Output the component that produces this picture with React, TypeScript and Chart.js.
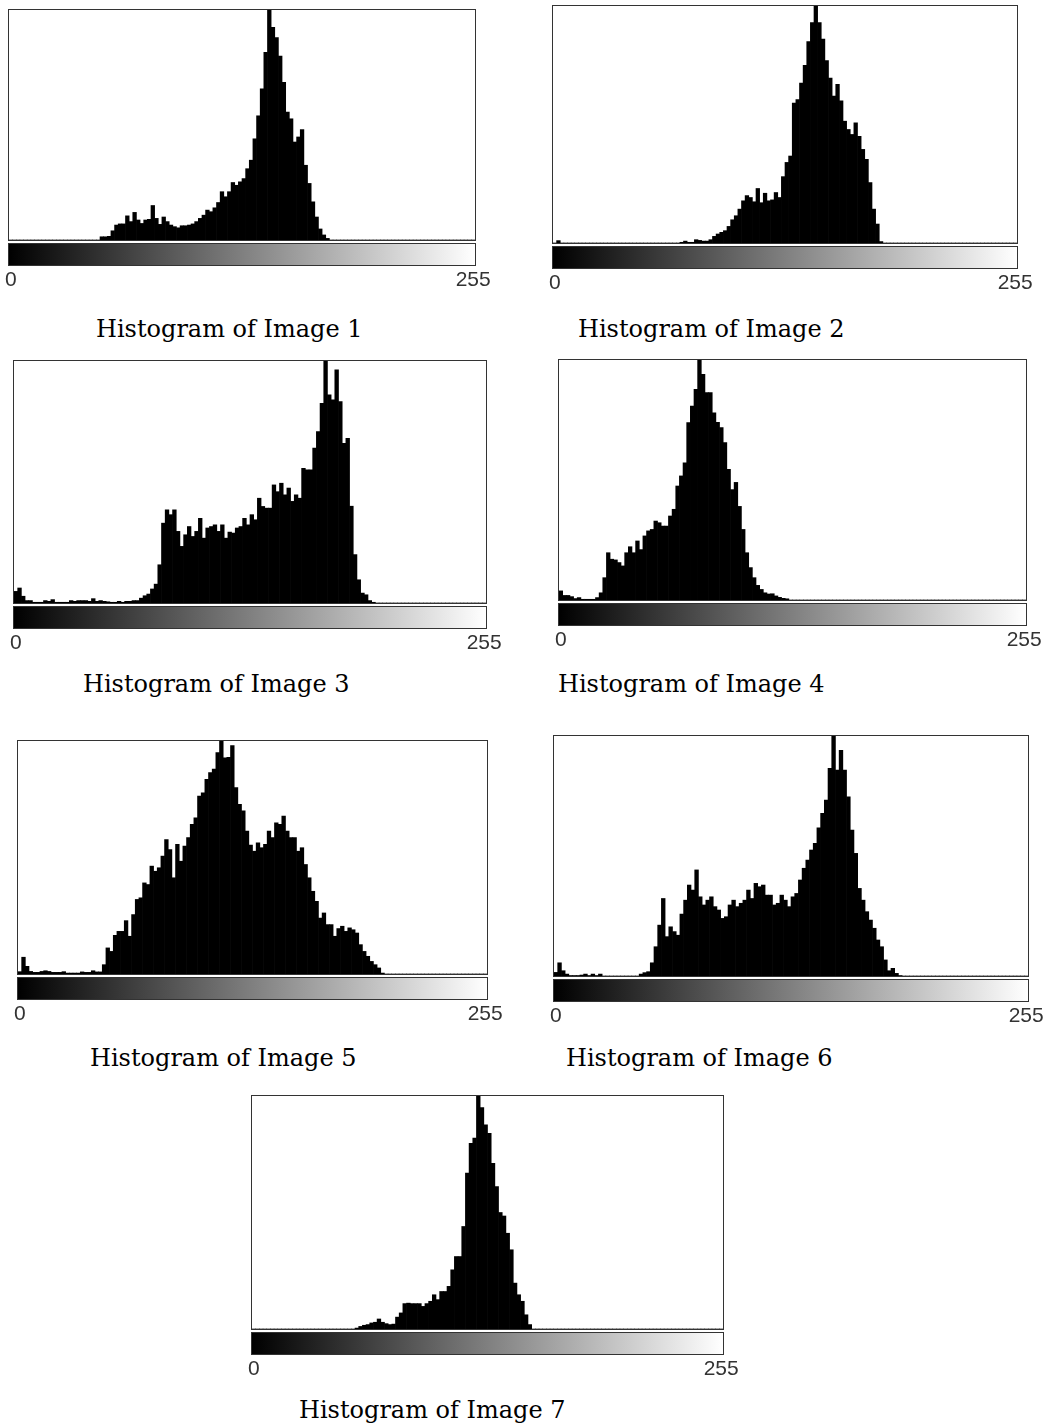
import React, { useEffect, useRef } from "react";
import { Chart, registerables } from "chart.js";

Chart.register(...registerables);

// 128 bins, each covering two grey levels (0-1, 2-3, ... 254-255)
const grayBins: string[] = Array.from({ length: 128 }, (_, i) => `${i * 2}-${i * 2 + 1}`);
const tickLabels = ["0", "255"];
const captions = [
  "Histogram of Image 1",
  "Histogram of Image 2",
  "Histogram of Image 3",
  "Histogram of Image 4",
  "Histogram of Image 5",
  "Histogram of Image 6",
  "Histogram of Image 7",
];

// relative pixel counts (% of the peak bin)
const hist1 = [
  0, 0, 0, 0, 0, 0, 0, 0, 0, 0, 0, 0, 0, 0, 0, 0, 0, 0, 0, 0, 0, 0, 0, 0, 0,
  1.4, 1.4, 1.6, 4, 6.5, 7, 7, 10.5, 8, 12, 8.7, 7.2, 8.7, 9, 15, 9.4, 6.8, 10, 8, 6.5,
  5.8, 5.3, 6.2, 6.2, 6.5, 7, 8, 9.4, 10.8, 13, 12.3, 14, 16.3, 21, 18.8, 21, 25, 23.8,
  25.3, 26.7, 31, 34.7, 44, 54, 65.7, 81.6, 100, 92.5, 88, 80, 68.6, 55.6, 52.7, 42.6,
  44.8, 48, 32.5, 24.6, 16.6, 10, 4.8, 2.2, 0.7,
  0, 0, 0, 0, 0, 0, 0, 0, 0, 0, 0, 0, 0, 0, 0, 0, 0, 0, 0, 0,
  0, 0, 0, 0, 0, 0, 0, 0, 0, 0, 0, 0, 0, 0, 0, 0, 0, 0, 0, 0,
];

const hist2 = [
  0, 1, 0, 0, 0, 0, 0, 0, 0, 0, 0, 0, 0, 0, 0, 0, 0, 0, 0, 0, 0, 0, 0, 0, 0, 0, 0, 0, 0,
  0, 0, 0, 0, 0, 0,
  0.3, 0.8, 0.3, 0.3, 1.4, 1.1, 0.8, 0.8, 1.4, 2.8, 3.8, 4.5, 5.2, 7, 9.8, 11.5, 14.3,
  17.8, 20, 19.2, 17.4, 23, 17, 21, 17.8, 18.2, 21.3, 19.2, 28, 34, 36.7, 59, 60.5, 67.5,
  75, 85, 93, 100, 93, 86, 77, 69.6, 62, 67, 60, 51.4, 47.9, 45.8, 50.7, 45, 39.5, 35.3,
  25.5, 14.3, 8, 0.6,
  0, 0, 0, 0, 0, 0, 0, 0, 0, 0, 0, 0, 0, 0, 0, 0, 0, 0, 0, 0,
  0, 0, 0, 0, 0, 0, 0, 0, 0, 0, 0, 0, 0, 0, 0, 0, 0,
];

const hist3 = [
  4.8, 6.2, 2.8, 1, 1, 0.3, 0.3, 0.3, 1, 0.7, 1.4, 0.3, 0.3, 0.3, 0.3, 1, 0.7, 1, 1, 1,
  0.7, 1.8, 0.7, 1, 0.7, 0.5, 0.3, 0.3, 0.7, 0.3, 0.7, 0.7, 1, 1, 2, 3, 3.7, 5.8, 7.8,
  15.8, 33, 38.5, 36.5, 38.5, 29.6, 23.4, 28.2, 31.6, 27.5, 29.6, 35, 26.8, 31, 31.6, 32.3,
  29.6, 32.3, 26.8, 29.3, 28.9, 31, 31.6, 35, 32.3, 36.5, 34.4, 43.3, 39.9, 39.2, 39.2,
  48.8, 46, 49.5, 44.7, 47.5, 42, 44.7, 43.3, 55.7, 55, 55, 64, 70.8, 82.5, 100, 86, 84,
  96.3, 83.2, 66, 68, 40, 20, 9.6, 4.1, 3.4, 1, 0.3,
  0, 0, 0, 0, 0, 0, 0, 0, 0, 0, 0, 0, 0, 0, 0,
  0, 0, 0, 0, 0, 0, 0, 0, 0, 0, 0, 0, 0, 0, 0,
];

const hist4 = [
  3.8, 1.9, 1.9, 1.4, 0.6, 1, 0.3, 0.3, 0.3, 0.3, 1, 3, 9.3, 19.7, 17, 16.7, 15.6, 14.2,
  19.7, 22.2, 19.7, 24.6, 21, 26.7, 28.8, 29.4, 32.9, 32.2, 30.8, 30.8, 35, 37.8, 47.5,
  51.7, 57.2, 73.9, 80.8, 87.8, 100, 94, 86.4, 86.4, 78, 74, 71.8, 65.6, 54.4, 46, 49, 39,
  29.4, 19.7, 13.5, 9.3, 6.1, 4.4, 3, 2.5, 2.6, 1.7, 1.1, 0.7, 0.5,
  0, 0, 0, 0, 0, 0, 0, 0, 0, 0, 0, 0, 0, 0, 0, 0, 0, 0, 0, 0, 0, 0,
  0, 0, 0, 0, 0, 0, 0, 0, 0, 0, 0, 0, 0, 0, 0, 0, 0, 0, 0, 0, 0, 0,
  0, 0, 0, 0, 0, 0, 0, 0, 0, 0, 0, 0, 0, 0, 0, 0, 0, 0, 0, 0, 0,
];

const hist5 = [
  1, 7.2, 3.3, 1.1, 0.7, 0.7, 1.1, 1.4, 1.1, 0.7, 0.7, 0.7, 1, 0.4, 0.4, 0.4, 0.4, 0.9,
  0.7, 0.7, 1.4, 0.9, 0.9, 4, 11.2, 9.7, 16.6, 18.3, 18.3, 22.9, 16.2, 25.5, 32, 32.7,
  39.1, 38.4, 46.3, 44.1, 45.6, 50.6, 57.7, 53.4, 41.3, 55.6, 48.4, 54.9, 58.5, 64.2, 67,
  76.4, 77.8, 83.5, 86.4, 88, 95, 100, 92.8, 93, 98, 80, 72.8, 70, 61.3, 55.3, 52.7, 56.3,
  54.2, 55.6, 61.3, 58.5, 64.9, 64.2, 67.8, 61.3, 58.5, 58.5, 52.7, 54.2, 47, 41.3, 35.5,
  31.2, 24, 26.2, 21.2, 21.2, 16.2, 19.5, 20.5, 18.3, 19.8, 19, 17.6, 12.6, 9.7, 7.6, 5.4,
  4, 2.6, 0.4,
  0, 0, 0, 0, 0, 0, 0, 0, 0, 0, 0, 0, 0, 0,
  0, 0, 0, 0, 0, 0, 0, 0, 0, 0, 0, 0, 0, 0,
];

const hist6 = [
  1.5, 5.5, 2.2, 0.8, 0.2, 0.2, 0.2, 0.4, 0.8, 0.2, 0.8, 0.2, 0.8,
  0, 0, 0, 0, 0, 0, 0, 0, 0, 0,
  0.8, 1.4, 1.8, 5.5, 12.2, 21.2, 32.3, 16.4, 20.5, 18.5, 17, 25.8, 31.6, 37.9, 35.8, 44.2,
  33, 29.6, 31.6, 33, 28.9, 27.5, 24, 24.7, 29.6, 31.6, 28.9, 30.3, 31.6, 35.8, 32.3, 38.6,
  37.2, 37.9, 33.7, 33.7, 29.6, 30.3, 33.7, 31.6, 28.9, 33, 34.4, 40, 44.9, 48.3, 52.5,
  55.3, 61.7, 67.8, 73.3, 86.5, 100, 85.8, 94, 85.8, 74.7, 60.8, 51.1, 36.5, 31.6, 26.8,
  23.3, 19.9, 15, 12.2, 6.7, 2.2, 3.2, 1.1, 0.2,
  0, 0, 0, 0, 0, 0, 0, 0, 0, 0, 0, 0, 0, 0, 0, 0, 0,
  0, 0, 0, 0, 0, 0, 0, 0, 0, 0, 0, 0, 0, 0, 0, 0, 0,
];

const hist7 = [
  0, 0, 0, 0, 0, 0, 0, 0, 0, 0, 0, 0, 0, 0, 0, 0, 0, 0, 0, 0, 0, 0, 0, 0, 0, 0, 0, 0,
  0.4, 1.1, 1.6, 1.9, 2.6, 2.9, 4.3, 2.9, 2.3, 1.9, 2.1, 5.1, 6.9, 10.9, 11.1, 10.9, 10.9,
  10.9, 9.7, 10.9, 11.9, 14.7, 12.6, 16.1, 16.1, 18.3, 25.4, 31.1, 31.1, 44, 66.9, 79.7,
  81.9, 100, 95, 87.6, 84, 71.1, 61.1, 50, 48.5, 41.1, 34, 19.7, 14.7, 11.9, 6.1, 1.9,
  0, 0, 0, 0, 0, 0, 0, 0, 0, 0, 0, 0, 0, 0, 0, 0, 0, 0, 0, 0, 0, 0, 0, 0, 0, 0,
  0, 0, 0, 0, 0, 0, 0, 0, 0, 0, 0, 0, 0, 0, 0, 0, 0, 0, 0, 0, 0, 0, 0, 0, 0, 0,
];

const histograms = [hist1, hist2, hist3, hist4, hist5, hist6, hist7];

// page layout of each panel (plot box in page pixels) and its caption
const panels = [
  { left: 9, top: 10, width: 466, height: 230, capX: 96, capBase: 337 },
  { left: 553, top: 6, width: 464, height: 237, capX: 578, capBase: 337 },
  { left: 14, top: 361, width: 472, height: 242, capX: 83, capBase: 692 },
  { left: 559, top: 360, width: 467, height: 240, capX: 558, capBase: 692 },
  { left: 18, top: 741, width: 469, height: 233, capX: 90, capBase: 1066 },
  { left: 554, top: 736, width: 474, height: 240, capX: 566, capBase: 1066 },
  { left: 252, top: 1096, width: 471, height: 233, capX: 299, capBase: 1418 },
];

const PAD_X = 50;
const PAD_T = 26;
const AXIS_H = 62;
const CAP_SIZE = 24;

const framePlugin = {
  id: "histFrame",
  afterDatasetsDraw(chart: any) {
    const { ctx, chartArea: a } = chart;
    const w = a.right - a.left;
    ctx.save();
    ctx.strokeStyle = "#333333";
    ctx.lineWidth = 1;
    ctx.strokeRect(a.left - 0.5, a.top - 0.5, w + 1, a.bottom - a.top + 1);
    const gy = a.bottom + 4;
    const gh = 21;
    const g = ctx.createLinearGradient(a.left, 0, a.right, 0);
    g.addColorStop(0, "#000000");
    g.addColorStop(1, "#ffffff");
    ctx.fillStyle = g;
    ctx.fillRect(a.left, gy, w, gh);
    ctx.strokeRect(a.left - 0.5, gy - 0.5, w + 1, gh + 1);
    ctx.restore();
  },
};

function Histogram({ values, panel }: { values: number[]; panel: (typeof panels)[number] }) {
  const ref = useRef<HTMLCanvasElement | null>(null);
  useEffect(() => {
    if (!ref.current) return;
    const chart = new Chart(ref.current, {
      type: "bar",
      data: {
        labels: grayBins,
        datasets: [
          {
            data: values,
            backgroundColor: "#000000",
            borderWidth: 0,
            categoryPercentage: 1,
            barPercentage: 1,
          },
        ],
      },
      options: {
        responsive: false,
        animation: false,
        events: [],
        layout: { padding: { left: PAD_X, right: PAD_X, top: PAD_T, bottom: 0 } },
        plugins: { legend: { display: false }, tooltip: { enabled: false }, title: { display: false } },
        scales: {
          x: {
            grid: { display: false, drawTicks: false },
            border: { display: false },
            ticks: {
              autoSkip: false,
              maxRotation: 0,
              minRotation: 0,
              padding: 28,
              color: "#333333",
              font: { family: "Liberation Sans", size: 21 },
              callback: (_v: any, i: number) =>
                i === 0 ? tickLabels[0] : i === grayBins.length - 1 ? tickLabels[1] : "",
            },
            afterFit: (s: any) => {
              s.height = AXIS_H;
            },
          },
          y: { display: false, min: 0, max: 100 },
        },
      },
      plugins: [framePlugin],
    } as any);
    return () => chart.destroy();
  }, [values]);
  const w = panel.width + PAD_X * 2;
  const h = panel.height + PAD_T + AXIS_H;
  return (
    <canvas
      ref={ref}
      width={w}
      height={h}
      style={{
        position: "absolute",
        left: panel.left - PAD_X,
        top: panel.top - PAD_T,
        width: w,
        height: h,
        display: "block",
      }}
    />
  );
}

export default function App() {
  return (
    <div
      style={{
        position: "absolute",
        left: 0,
        top: 0,
        width: 1051,
        height: 1426,
        overflow: "hidden",
        background: "#ffffff",
      }}
    >
      {panels.map((p, i) => (
        <React.Fragment key={i}>
          <Histogram values={histograms[i]} panel={p} />
          <div
            style={{
              position: "absolute",
              left: p.capX,
              top: p.capBase - 0.846 * CAP_SIZE,
              fontFamily: "'DejaVu Serif', serif",
              fontSize: CAP_SIZE,
              lineHeight: `${CAP_SIZE}px`,
              whiteSpace: "nowrap",
              color: "#000000",
            }}
          >
            {captions[i]}
          </div>
        </React.Fragment>
      ))}
    </div>
  );
}
